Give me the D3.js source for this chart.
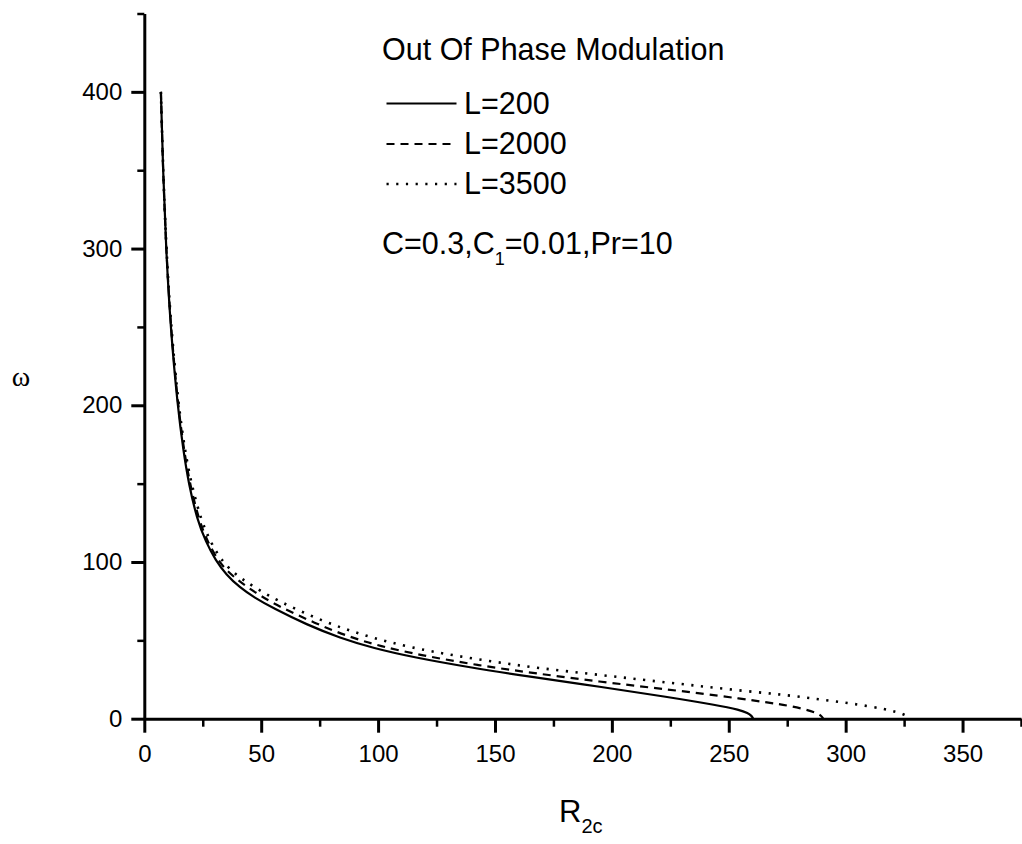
<!DOCTYPE html>
<html>
<head>
<meta charset="utf-8">
<script src="https://cdn.jsdelivr.net/npm/d3@7"></script>
<style>
  html, body { margin: 0; padding: 0; background: #fff; }
  svg { display: block; }
  text { font-family: "Liberation Sans", Arial, sans-serif; fill: #000; }
</style>
</head>
<body>
<script>
// ---- data ----
const seriesNames = ["L=200", "L=2000", "L=3500"];

const r200 = [7.1, 8.0, 9.3, 11.2, 14.2, 16.8, 19.0, 22.6, 26.3, 30.5, 35, 41, 47, 55, 69.5, 83.7, 98, 115, 140, 165, 195, 223.4, 244.8, 254.8, 258.2, 259.8, 260.5];
const w200 = [400, 350, 300, 250, 200, 170, 150, 127, 113, 101, 92, 83.5, 77.4, 70.6, 60, 51.5, 45, 39.2, 32.5, 26.8, 20.4, 14, 8.7, 5.6, 3.6, 1.8, 0];

const r2000 = [7.1, 8.0, 9.35, 11.3, 14.4, 17.1, 19.5, 23.3, 27.3, 32, 36, 40, 44, 50, 58, 73, 87, 101, 118, 143, 168, 195, 220, 237.7, 255, 267, 275, 282.6, 287.5, 289.8, 290.4];
const w2000 = [400, 350, 300, 250, 200, 170, 150, 127, 112, 100, 93.5, 88.5, 84, 78.2, 71.3, 61, 52.5, 46.2, 40.6, 34, 28.8, 23.6, 19.3, 16.2, 12.8, 10.3, 8.5, 6, 3.8, 1.6, 0];

const r3500 = [7.1, 8.05, 9.4, 11.4, 14.6, 17.5, 20.1, 24.2, 28.5, 33.5, 38, 42, 47, 53, 61, 76, 90, 105, 122, 147, 170, 195, 220, 237.7, 256, 274, 290.4, 306.8, 316, 322, 326, 327.5];
const w3500 = [400, 350, 300, 250, 200, 170, 150, 127, 112, 100, 93.5, 89, 84, 78.7, 72.5, 62.5, 55, 48.6, 43, 36.8, 32, 27.9, 23.7, 20.8, 17.8, 15.2, 12.1, 8.8, 6.3, 4.3, 2.2, 0];

const xMajorTicks = [0, 50, 100, 150, 200, 250, 300, 350];
const xMinorTicks = [25, 75, 125, 175, 225, 275, 325, 375];
const yMajorTicks = [0, 100, 200, 300, 400];
const yMinorTicks = [50, 150, 250, 350, 450];

const legendTitle = "Out Of Phase Modulation";

// ---- drawing ----
const W = 1022, H = 844;
const svg = d3.select("body").append("svg").attr("width", W).attr("height", H);

const x = d3.scaleLinear().domain([0, 375]).range([144.3, 1021]);
const y = d3.scaleLinear().domain([0, 450]).range([718.7, 13.5]);

const series = [
  { name: seriesNames[0], r: r200, w: w200, dash: null, sw: 2.2 },
  { name: seriesNames[1], r: r2000, w: w2000, dash: "8,6", sw: 2.2 },
  { name: seriesNames[2], r: r3500, w: w3500, dash: "2.2,7.5", sw: 2.6 }
];

function styleAxis(g) {
  g.selectAll("path.domain").attr("stroke", "#000").attr("stroke-width", 3);
  g.selectAll(".tick line").attr("stroke", "#000").attr("stroke-width", 3);
  g.selectAll(".tick text").style("font-size", "24px").style("font-family", "'Liberation Sans', Arial, sans-serif");
}

// minor ticks
const gxMinor = svg.append("g").attr("transform", `translate(0,${y(0)})`)
  .call(d3.axisBottom(x).tickValues(xMinorTicks).tickSize(8).tickFormat(""));
gxMinor.select("path.domain").remove();
gxMinor.selectAll(".tick line").attr("stroke", "#000").attr("stroke-width", 2.5);

const gyMinor = svg.append("g").attr("transform", `translate(${x(0)},0)`)
  .call(d3.axisLeft(y).tickValues(yMinorTicks).tickSize(7).tickFormat(""));
gyMinor.select("path.domain").remove();
gyMinor.selectAll(".tick line").attr("stroke", "#000").attr("stroke-width", 2.5);

// major axes
const gx = svg.append("g").attr("transform", `translate(0,${y(0)})`)
  .call(d3.axisBottom(x).tickValues(xMajorTicks).tickSizeInner(14).tickSizeOuter(0).tickPadding(12).tickFormat(d3.format("d")));
styleAxis(gx);

const gy = svg.append("g").attr("transform", `translate(${x(0)},0)`)
  .call(d3.axisLeft(y).tickValues(yMajorTicks).tickSizeInner(13).tickSizeOuter(0).tickPadding(9).tickFormat(d3.format("d")));
styleAxis(gy);

// curves
const line = d3.line()
  .x(d => x(d[0]))
  .y(d => y(d[1]))
  .curve(d3.curveBasis);

series.forEach(s => {
  const pts = s.r.map((rv, i) => [rv, s.w[i]]);
  svg.append("path")
    .datum(pts)
    .attr("d", line)
    .attr("fill", "none")
    .attr("stroke", "#000")
    .attr("stroke-width", s.sw)
    .attr("stroke-dasharray", s.dash);
});

// axis titles
svg.append("text")
  .attr("x", 21).attr("y", 386)
  .attr("text-anchor", "middle")
  .style("font-family", "'Liberation Serif', 'DejaVu Serif', serif")
  .style("font-size", "28px")
  .text("ω");

const xt = svg.append("text")
  .attr("x", 559).attr("y", 822)
  .style("font-size", "31px");
xt.append("tspan").text("R");
xt.append("tspan").attr("dy", 11).style("font-size", "20px").text("2c");

// legend
svg.append("text").attr("x", 382).attr("y", 60).style("font-size", "30.5px").text(legendTitle);

const legY = [103.5, 144, 184];
const legBase = [114, 153.5, 194];
series.forEach((s, i) => {
  svg.append("line")
    .attr("x1", 386.5).attr("x2", 456.5)
    .attr("y1", legY[i]).attr("y2", legY[i])
    .attr("stroke", "#000")
    .attr("stroke-width", s.sw)
    .attr("stroke-dasharray", s.dash);
  svg.append("text").attr("x", 464).attr("y", legBase[i]).style("font-size", "30.5px").text(s.name);
});

const pt = svg.append("text").attr("x", 382).attr("y", 254).style("font-size", "30.5px");
pt.append("tspan").text("C=0.3,C");
pt.append("tspan").attr("dy", 11).style("font-size", "18px").text("1");
pt.append("tspan").attr("dy", -11).text("=0.01,Pr=10");
</script>
</body>
</html>
